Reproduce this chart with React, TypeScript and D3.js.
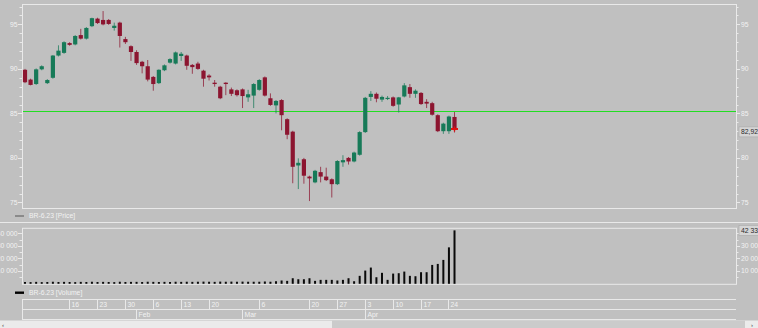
import React from 'react';
import * as d3 from 'd3';

// ---------- DATA ----------
const dates = [
  '2023-01-04', '2023-01-05', '2023-01-06', '2023-01-09', '2023-01-10', '2023-01-11', '2023-01-12', '2023-01-13',
  '2023-01-16', '2023-01-17', '2023-01-18', '2023-01-19', '2023-01-20',
  '2023-01-23', '2023-01-24', '2023-01-25', '2023-01-26', '2023-01-27',
  '2023-01-30', '2023-01-31', '2023-02-01', '2023-02-02', '2023-02-03',
  '2023-02-06', '2023-02-07', '2023-02-08', '2023-02-09', '2023-02-10',
  '2023-02-13', '2023-02-14', '2023-02-15', '2023-02-16', '2023-02-17',
  '2023-02-20', '2023-02-21', '2023-02-22', '2023-02-24',
  '2023-02-27', '2023-02-28', '2023-03-01', '2023-03-02', '2023-03-03',
  '2023-03-06', '2023-03-07', '2023-03-09', '2023-03-10',
  '2023-03-13', '2023-03-14', '2023-03-15', '2023-03-16', '2023-03-17',
  '2023-03-20', '2023-03-21', '2023-03-22', '2023-03-23', '2023-03-24',
  '2023-03-27', '2023-03-28', '2023-03-29', '2023-03-30', '2023-03-31',
  '2023-04-03', '2023-04-04', '2023-04-05', '2023-04-06', '2023-04-07',
  '2023-04-10', '2023-04-11', '2023-04-12', '2023-04-13', '2023-04-14',
  '2023-04-17', '2023-04-18', '2023-04-19', '2023-04-20', '2023-04-21',
  '2023-04-24', '2023-04-25',
];

const openPrices = [
  89.9, 88.8, 88.3, 89.95, 88.4, 89.0, 91.5, 91.8, 92.9, 92.75,
  93.8, 93.4, 94.8, 95.65, 95.5, 95.5, 94.6, 95.2, 93.35, 92.55,
  91.9, 90.8, 90.3, 89.1, 88.4, 89.85, 90.7, 90.6, 91.45, 91.5,
  90.45, 90.6, 89.8, 89.25, 88.45, 88.0, 88.45, 87.7, 87.6, 87.7,
  86.8, 87.0, 87.65, 89.05, 86.7, 85.9, 86.5, 84.35, 82.95, 79.15,
  79.85, 77.9, 77.25, 78.4, 77.9, 77.6, 77.05, 79.5, 80.0, 79.6,
  80.35, 82.9, 86.85, 87.2, 86.55, 86.7, 86.8, 86.0, 86.9, 87.95,
  87.2, 87.3, 86.3, 86.15, 84.8, 83.0, 83.0, 84.6,
];
const highPrices = [
  90.0, 88.9, 90.05, 90.4, 88.85, 91.55, 92.65, 93.1, 93.0, 93.8,
  94.5, 94.7, 95.75, 95.75, 96.5, 95.6, 95.2, 95.3, 93.6, 92.65,
  92.1, 90.9, 91.0, 89.2, 89.95, 90.5, 91.2, 91.95, 91.9, 91.6,
  90.55, 90.8, 89.9, 89.4, 88.75, 88.1, 88.5, 87.9, 87.7, 87.8,
  87.65, 88.4, 88.85, 89.15, 87.25, 86.5, 86.6, 84.45, 83.05, 79.95,
  80.0, 78.0, 78.65, 79.0, 78.9, 77.7, 79.75, 80.3, 80.1, 80.7,
  83.0, 86.85, 87.5, 87.35, 87.0, 86.95, 86.9, 86.85, 88.4, 88.3,
  87.7, 87.4, 86.6, 86.3, 84.9, 83.95, 84.75, 85.15,
];
const lowPrices = [
  88.4, 88.15, 88.2, 89.85, 88.3, 88.9, 91.4, 91.7, 92.6, 92.65,
  93.3, 93.3, 94.7, 95.05, 94.9, 94.95, 94.3, 92.4, 92.8, 90.9,
  90.45, 89.5, 88.6, 87.55, 88.3, 89.75, 90.6, 90.5, 90.9, 89.9,
  89.45, 89.9, 88.0, 88.7, 88.0, 86.6, 87.05, 86.95, 86.9, 85.6,
  86.3, 85.6, 87.55, 86.9, 85.85, 85.0, 83.1, 82.1, 77.15, 76.5,
  77.1, 75.15, 77.15, 77.25, 77.4, 75.55, 76.95, 79.0, 79.25, 79.5,
  80.25, 82.8, 86.4, 86.25, 86.3, 86.5, 85.75, 85.1, 86.8, 86.75,
  86.75, 85.95, 85.6, 84.75, 82.9, 82.7, 82.7, 82.85,
];
const closePrices = [
  88.5, 88.2, 89.95, 90.3, 88.75, 91.5, 92.05, 93.0, 92.7, 93.7,
  93.4, 94.6, 95.7, 95.15, 95.0, 95.05, 94.85, 93.7, 93.0, 91.9,
  90.65, 90.3, 88.8, 88.3, 89.9, 90.4, 91.1, 91.85, 91.7, 90.35,
  90.2, 90.0, 88.9, 89.05, 88.3, 86.7, 88.3, 87.2, 87.05, 86.95,
  87.15, 88.3, 88.75, 87.0, 85.95, 86.4, 84.8, 82.6, 79.0, 79.45,
  78.0, 77.7, 78.55, 77.9, 77.5, 77.05, 79.65, 79.75, 79.6, 80.6,
  82.9, 86.75, 87.2, 86.65, 86.85, 86.75, 85.85, 86.8, 88.15, 87.2,
  87.55, 86.05, 86.1, 84.85, 83.0, 83.85, 84.65, 83.2,
];
const volumes = [
  1200, 1100, 1300, 1100, 1200, 1400, 1200, 1300, 1200, 1100,
  1300, 1200, 1400, 1200, 1300, 1200, 1100, 1400, 1200, 1300,
  1300, 1200, 1400, 1300, 1200, 1300, 1200, 1400, 1300, 1400,
  1300, 1400, 1500, 1400, 1300, 1500, 1400, 1500, 1400, 1500,
  1400, 1400, 1400, 1600, 1400, 1800, 2400, 2100, 4200, 3400,
  3400, 4200, 2100, 2900, 2900, 2900, 2400, 2900, 4200, 1800,
  6100, 10300, 12700, 5000, 8500, 2900, 7900, 8200, 9500, 6100,
  5800, 9000, 9000, 14800, 15600, 18800, 28800, 42337,
];

const priceMajorTicks = [75, 80, 85, 90, 95];
const priceMinorTicks = [75, 76, 77, 78, 79, 80, 81, 82, 83, 84, 85, 86, 87, 88, 89, 90, 91, 92, 93, 94, 95, 96, 97];
const volumeMajorTicks = [10000, 20000, 30000, 40000];
const volumeRightLabels = [10000, 20000, 30000];
const volumeMinorTicks = [5000, 15000, 25000, 35000];

const weekTicks = [
  { date: '2023-01-16', label: '16' }, { date: '2023-01-23', label: '23' }, { date: '2023-01-30', label: '30' },
  { date: '2023-02-06', label: '6' }, { date: '2023-02-13', label: '13' }, { date: '2023-02-20', label: '20' },
  { date: '2023-03-06', label: '6' }, { date: '2023-03-20', label: '20' }, { date: '2023-03-27', label: '27' },
  { date: '2023-04-03', label: '3' }, { date: '2023-04-10', label: '10' }, { date: '2023-04-17', label: '17' },
  { date: '2023-04-24', label: '24' },
];
const monthTicks = [
  { date: '2023-02-01', label: 'Feb' }, { date: '2023-03-01', label: 'Mar' }, { date: '2023-04-03', label: 'Apr' },
];

const lastPrice = 82.92;
const lastVolume = 42337;
const levelPrice = 85.3;
const markerPrice = 83.25;
const instrument = 'BR-6.23';

// ---------- STYLE / LAYOUT ----------
const W = 758;
const H = 328;
const BG = '#c0c0c0';
const LINE = '#e9e9e9';
const TXT = '#f2f2f2';
const UP = '#177a58';
const DOWN = '#8c1530';
const LEVEL = '#22dd22';
const FONT = '"Liberation Sans", Arial, sans-serif';
const FS = 6.8;

const PL = 22, PR = 736;
const priceTop = 4, priceBottom = 208;
const volTop = 228.3, volBottom = 284.3;

const fmtVol = (v: number) => d3.format(',')(v).replace(/,/g, ' ');
const fmtPrice = (v: number) => d3.format('.2f')(v).replace('.', ',');

export default function App() {
  const x = d3.scalePoint<string>().domain(dates).range([25, 25 + 77 * 5.578]);
  const y = d3.scaleLinear().domain([75, 95]).range([202.4, 24.4]);
  const yv = d3.scaleLinear().domain([0, 40000]).range([283.5, 233.3]);

  const candles = dates.map((d, i) => ({
    d, o: openPrices[i], h: highPrices[i], l: lowPrices[i], c: closePrices[i], v: volumes[i],
  }));

  const crisp = (v: number) => Math.round(v) + 0.5;
  const levelY = Math.round(y(levelPrice));

  return (
    <svg width={W} height={H} style={{ position: 'absolute', left: 0, top: 0, display: 'block' }}
      fontFamily={FONT} fontSize={FS}>
      <rect x={0} y={0} width={W} height={H} fill={BG} />

      {/* price panel frame */}
      <rect x={PL + 0.5} y={priceTop + 0.5} width={PR - PL} height={priceBottom - priceTop} fill="none" stroke={LINE} />

      {/* price axes */}
      {priceMinorTicks.map(t => (
        <g key={'pm' + t}>
          <line x1={PR} x2={PR + 2.5} y1={crisp(y(t))} y2={crisp(y(t))} stroke={LINE} />
          <line x1={PL - 2.5} x2={PL} y1={crisp(y(t))} y2={crisp(y(t))} stroke={LINE} />
        </g>
      ))}
      {priceMajorTicks.map(t => (
        <g key={'pM' + t}>
          <line x1={PR} x2={PR + 4} y1={crisp(y(t))} y2={crisp(y(t))} stroke={LINE} />
          <line x1={PL - 4} x2={PL} y1={crisp(y(t))} y2={crisp(y(t))} stroke={LINE} />
          <text x={PR + 5} y={y(t)} dy="0.35em" fill={TXT}>{t}</text>
          <text x={PL - 4.5} y={y(t)} dy="0.35em" fill={TXT} textAnchor="end">{t}</text>
        </g>
      ))}

      {/* level line */}
      <rect x={PL + 1} y={levelY} width={PR - PL - 1} height={1} fill={LEVEL} />

      {/* candles */}
      {candles.map(k => {
        const cx = x(k.d) as number;
        const up = k.c >= k.o;
        const col = up ? UP : DOWN;
        const top = y(Math.max(k.o, k.c));
        const bot = y(Math.min(k.o, k.c));
        return (
          <g key={k.d}>
            <line x1={cx} x2={cx} y1={y(k.h)} y2={y(k.l)} stroke={col} strokeOpacity={0.75} strokeWidth={1} />
            <rect x={cx - 2.1} y={top} width={4.2} height={Math.max(1.2, bot - top)} fill={col} />
          </g>
        );
      })}

      {/* last price marker */}
      {(() => {
        const cx = x(dates[dates.length - 1]) as number;
        const my = y(markerPrice);
        return (
          <g fill="#e01010">
            <rect x={cx - 3.5} y={my - 1} width={7} height={2} />
            <rect x={cx - 0.7} y={my - 2.5} width={1.4} height={5} />
          </g>
        );
      })()}

      {/* last price label */}
      <rect x={739} y={y(lastPrice) - 5} width={22} height={10} fill="#d5d5d5" stroke="#a8a8a8" strokeWidth={0.6} />
      <text x={741} y={y(lastPrice)} dy="0.35em" fill="#2a2a2a">{fmtPrice(lastPrice)}</text>

      {/* price legend */}
      <line x1={15} x2={24} y1={216} y2={216} stroke="#8a8a8a" strokeWidth={2} />
      <text x={29} y={216} dy="0.35em" fill={TXT}>{instrument} [Price]</text>

      {/* separator */}
      <line x1={0} x2={W} y1={222.5} y2={222.5} stroke={LINE} strokeWidth={1.2} />

      {/* volume panel */}
      <rect x={PL + 0.5} y={volTop} width={PR - PL} height={volBottom - volTop} fill="none" stroke={LINE} />
      {volumeMinorTicks.map(t => (
        <g key={'vm' + t}>
          <line x1={PR} x2={PR + 2.5} y1={crisp(yv(t))} y2={crisp(yv(t))} stroke={LINE} />
          <line x1={PL - 2.5} x2={PL} y1={crisp(yv(t))} y2={crisp(yv(t))} stroke={LINE} />
        </g>
      ))}
      {volumeMajorTicks.map(t => (
        <g key={'vM' + t}>
          <line x1={PR} x2={PR + 4} y1={crisp(yv(t))} y2={crisp(yv(t))} stroke={LINE} />
          <line x1={PL - 4} x2={PL} y1={crisp(yv(t))} y2={crisp(yv(t))} stroke={LINE} />
          <text x={PL - 4.5} y={yv(t)} dy="0.35em" fill={TXT} textAnchor="end">{fmtVol(t)}</text>
        </g>
      ))}
      {volumeRightLabels.map(t => (
        <text key={'vr' + t} x={PR + 5} y={yv(t)} dy="0.35em" fill={TXT}>{fmtVol(t)}</text>
      ))}
      {candles.map(k => {
        const cx = x(k.d) as number;
        return <rect key={'v' + k.d} x={cx - 1} y={yv(k.v)} width={2} height={volBottom - 0.5 - yv(k.v)} fill="#0a0a0a" />;
      })}
      <rect x={739} y={yv(lastVolume) - 5} width={22} height={10} fill="#d5d5d5" stroke="#a8a8a8" strokeWidth={0.6} />
      <text x={741} y={yv(lastVolume)} dy="0.35em" fill="#2a2a2a">{fmtVol(lastVolume)}</text>

      {/* volume legend */}
      <line x1={15} x2={24} y1={292.7} y2={292.7} stroke="#000" strokeWidth={2.4} />
      <text x={29} y={292.7} dy="0.35em" fill={TXT}>{instrument} [Volume]</text>

      {/* time axis rows */}
      <line x1={PL} x2={PR} y1={299.5} y2={299.5} stroke={LINE} />
      <line x1={PL} x2={PR} y1={309.5} y2={309.5} stroke={LINE} />
      <line x1={PL} x2={PR} y1={319.5} y2={319.5} stroke={LINE} />
      <line x1={PL + 0.5} x2={PL + 0.5} y1={299} y2={320} stroke={LINE} />
      {weekTicks.map(t => {
        const sx = crisp((x(t.date) as number) - 0.5);
        return (
          <g key={'w' + t.date}>
            <line x1={sx} x2={sx} y1={299.5} y2={309.5} stroke={LINE} />
            <text x={sx + 2} y={304.6} dy="0.35em" fill={TXT}>{t.label}</text>
          </g>
        );
      })}
      {monthTicks.map(t => {
        const sx = crisp((x(t.date) as number) - 0.5);
        return (
          <g key={'m' + t.date}>
            <line x1={sx} x2={sx} y1={309.5} y2={319.5} stroke={LINE} />
            <text x={sx + 2} y={314.6} dy="0.35em" fill={TXT}>{t.label}</text>
          </g>
        );
      })}

      {/* scrollbar */}
      <rect x={0} y={320.5} width={W} height={7.5} fill="#ebebeb" />
      <rect x={332} y={320.5} width={413} height={7.5} fill="#cbcbcb" />
      <text x={2} y={324.5} dy="0.35em" fill="#404040" fontSize={6}>‹</text>
      <text x={751} y={324.5} dy="0.35em" fill="#404040" fontSize={6}>›</text>
    </svg>
  );
}
